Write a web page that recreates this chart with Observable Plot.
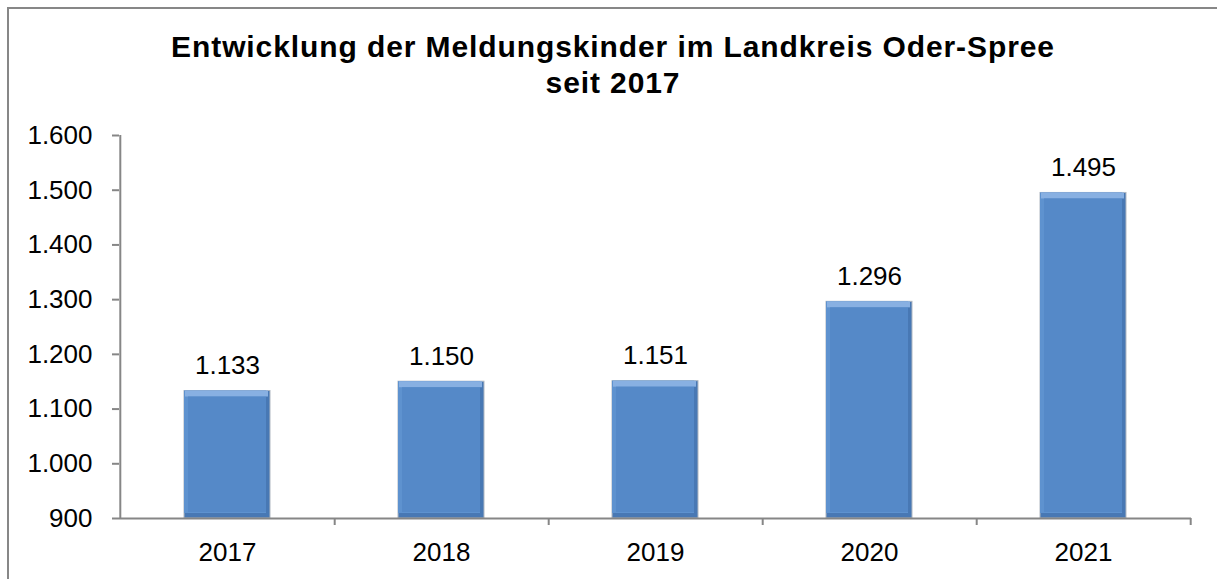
<!DOCTYPE html>
<html>
<head>
<meta charset="utf-8">
<script src="https://cdn.jsdelivr.net/npm/d3@7"></script>
<script src="https://cdn.jsdelivr.net/npm/@observablehq/plot@0.6"></script>
<style>
  html, body { margin: 0; padding: 0; background: #fff; }
  #wrap { position: relative; width: 1217px; height: 579px; overflow: hidden; font-family: "Liberation Sans", Arial, sans-serif; }
  #border { position: absolute; left: 7px; top: 7px; width: 1240px; height: 600px; border: 2px solid #878787; box-sizing: border-box; }
  #title { position: absolute; left: 13px; width: 1200px; top: 29px; text-align: center; font-size: 30px; line-height: 36px; letter-spacing: 0.9px; font-weight: bold; color: #000; }
  #chart { position: absolute; left: 0; top: 0; }
</style>
</head>
<body>
<div id="wrap">
  <div id="border"></div>
  <div id="chart"></div>
  <div id="title">Entwicklung der Meldungskinder im Landkreis Oder-Spree<br>seit 2017</div>
</div>
<script>
const years = ["2017", "2018", "2019", "2020", "2021"];
const values = [1133, 1150, 1151, 1296, 1495];
const yTicks = [900, 1000, 1100, 1200, 1300, 1400, 1500, 1600];

const data = years.map((y, i) => ({year: y, value: values[i]}));
const fmt = d => d3.format(",")(d).replace(/,/g, ".");

const W = 1217, H = 579;
const mL = 119, mR = 26, mT = 135, mB = 61;
const step = (W - mL - mR) / years.length;
const axisColor = "#868686";

const plot = Plot.plot({
  width: W,
  height: H,
  marginLeft: mL,
  marginRight: mR,
  marginTop: mT,
  marginBottom: mB,
  style: {fontFamily: "'Liberation Sans', Arial, sans-serif", fontSize: "26px", color: "#000", background: "transparent", overflow: "visible"},
  x: {domain: years, paddingInner: 0.6, paddingOuter: 0.3, label: null},
  y: {domain: [900, 1600], label: null},
  marks: [
    // bars: bevel layers
    Plot.barY(data, {x: "year", y1: 900, y2: "value", fill: "#4878B4", stroke: "#b0b8c2", strokeWidth: 1}),
    Plot.barY(data, {x: "year", y1: 900, y2: "value", fill: "#5E92CF", insetRight: 4, insetBottom: 5}),
    Plot.barY(data, {x: "year", y1: "value", y2: "value", fill: "#88B0E2", insetBottom: -6, insetRight: 2, insetLeft: 1}),
    Plot.barY(data, {x: "year", y1: 900, y2: "value", fill: "#5589C8", insetLeft: 4, insetRight: 4, insetTop: 6, insetBottom: 6}),
    // axes
    Plot.ruleY([900], {stroke: axisColor, strokeWidth: 2}),
    Plot.ruleX([years[0]], {x: d => d, y1: 900, y2: 1600, dx: -step / 2, stroke: axisColor, strokeWidth: 2}),
    Plot.ruleX(years, {x: d => d, y1: 900, y2: 900, insetBottom: -7, dx: step / 2, stroke: axisColor, strokeWidth: 2}),
    Plot.axisY(yTicks, {tickSize: 7, tickPadding: 20, tickFormat: fmt, stroke: axisColor, strokeWidth: 2, fontSize: 26, fill: "#000"}),
    Plot.axisX({tickSize: 0, tickPadding: 24, fontSize: 26, fill: "#000"}),
    // value labels
    Plot.text(data, {x: "year", y: "value", text: d => fmt(d.value), dy: -25, fontSize: 26, fill: "#000"})
  ]
});
document.getElementById("chart").appendChild(plot);
</script>
</body>
</html>
